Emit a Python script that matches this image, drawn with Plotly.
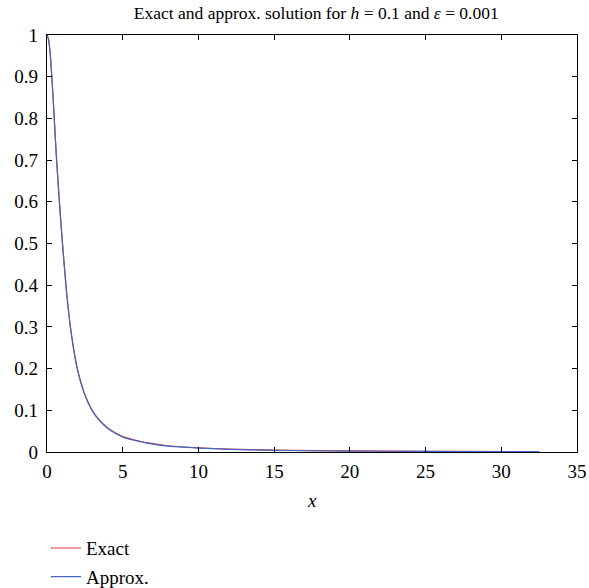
import plotly.graph_objects as go

x_vals = [0, 0.1, 0.2, 0.3, 0.45, 0.6, 0.8, 1.0, 1.3, 1.6, 2.0, 2.5, 3.0, 3.5,
          4.0, 4.5, 5, 6, 7, 8, 10, 12, 15, 20, 25, 30, 32.5]
exact = [1.0, 0.99, 0.96, 0.91, 0.82, 0.72, 0.61, 0.51, 0.38, 0.285, 0.2, 0.138,
         0.099, 0.075, 0.058, 0.046, 0.037, 0.027, 0.02, 0.015, 0.01, 0.007, 0.0045,
         0.0025, 0.0016, 0.0011, 0.0009]
approx = [1.0, 0.99, 0.96, 0.91, 0.82, 0.72, 0.61, 0.51, 0.38, 0.285, 0.2, 0.137,
          0.098, 0.074, 0.057, 0.045, 0.036, 0.026, 0.019, 0.014, 0.0095, 0.0065, 0.004,
          0.0022, 0.0014, 0.001, 0.0008]

FONT = "Liberation Serif"

fig = go.Figure()
fig.add_trace(go.Scatter(x=x_vals, y=exact, mode="lines", name="Exact",
                         line=dict(color="#d9383a", width=1.2, shape="spline", smoothing=0.5),
                         legendgroup="a"))
fig.add_trace(go.Scatter(x=x_vals, y=approx, mode="lines", name="Approx.",
                         line=dict(color="#4466c0", width=1.2, shape="spline", smoothing=0.5),
                         legendgroup="b"))

axis_common = dict(showline=True, linecolor="black", linewidth=1.2, mirror="ticks",
                   ticks="inside", ticklen=5, tickcolor="black", tickwidth=1,
                   showgrid=False, zeroline=False, automargin=False,
                   tickfont=dict(family=FONT, size=19, color="black"))

fig.update_layout(
    width=589, height=588,
    margin=dict(l=47, r=12, t=35, b=136, autoexpand=False),
    paper_bgcolor="white", plot_bgcolor="white",
    title=dict(text="Exact and approx. solution for <i>h</i> = 0.1 and <i>ε</i> = 0.001",
               x=0.537, xanchor="center", y=0.978, yanchor="middle",
               font=dict(family=FONT, size=17.5, color="black")),
    xaxis=dict(range=[0, 35], tickvals=[0, 5, 10, 15, 20, 25, 30, 35],
               ticklabelstandoff=2, **axis_common),
    yaxis=dict(range=[0, 1], tickvals=[0, 0.1, 0.2, 0.3, 0.4, 0.5, 0.6, 0.7, 0.8, 0.9, 1],
               ticktext=["0", "0.1", "0.2", "0.3", "0.4", "0.5", "0.6", "0.7", "0.8", "0.9", "1"],
               ticklabelstandoff=4, **axis_common),
    legend=dict(x=-0.002, y=-0.185, xanchor="left", yanchor="top",
                font=dict(family=FONT, size=19, color="black"),
                tracegroupgap=1, bgcolor="rgba(0,0,0,0)"),
    showlegend=True,
    annotations=[dict(text="<i>x</i>", xref="paper", yref="paper", x=0.5, y=-0.1175,
                      xanchor="center", yanchor="middle", showarrow=False,
                      font=dict(family=FONT, size=19, color="black"))],
)

fig.write_html("out.html", config={"displayModeBar": False},
               post_script="document.body.style.margin='0';document.body.style.overflow='hidden';")
